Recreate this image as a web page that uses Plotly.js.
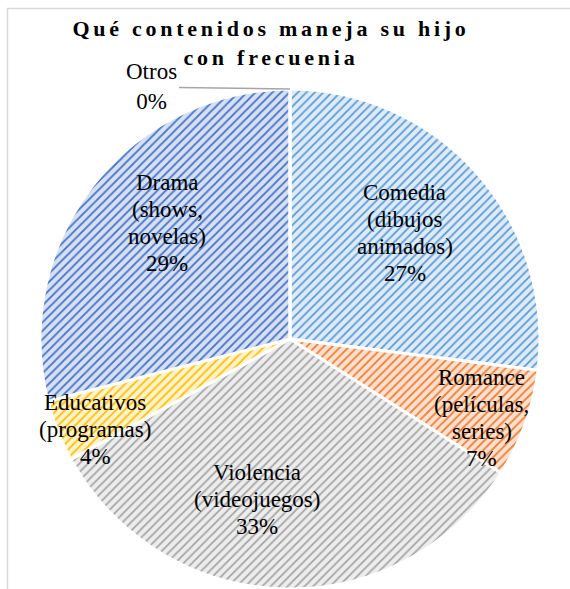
<!DOCTYPE html>
<html>
<head>
<meta charset="utf-8">
<script src="https://cdn.plot.ly/plotly-3.0.1.min.js"></script>
<style>
  html, body { margin: 0; padding: 0; background: #fff; }
  #chart { width: 570px; height: 589px; }
</style>
</head>
<body>
<div id="chart"></div>
<script>
// ---- data ----
const categories = ["Comedia", "Romance", "Violencia", "Educativos", "Drama", "Otros"];
const labelLines = [
  ["Comedia", "(dibujos", "animados)"],
  ["Romance", "(películas,", "series)"],
  ["Violencia", "(videojuegos)"],
  ["Educativos", "(programas)"],
  ["Drama", "(shows,", "novelas)"],
  ["Otros"]
];
const values = [27, 7, 33, 4, 29, 0];
const chartTitle = "Qué contenidos maneja su hijo<br>con frecuenia";

// ---- style ----
const fgColors = ["#5b9bd5", "#ed7d31", "#a5a5a5", "#ffc000", "#4472c4", "#70ad47"];
const bgColors = ["#deebf7", "#fbe0cf", "#ededed", "#fff2cc", "#d6e0f3", "#e2efda"];
const labelRadius = [0.625, 0.83, 0.656, 0.86, 0.676];
const labelAngleShift = [-1.3, 2.6, 9.8, -3.4, 5.5];

const W = 570, H = 589;
const dom = { x: [40 / W, 540 / W], y: [0, 500 / H] };
const cx = (dom.x[0] + dom.x[1]) / 2 * W;
const cy = H - (dom.y[0] + dom.y[1]) / 2 * H;
const R = Math.min((dom.x[1] - dom.x[0]) * W, (dom.y[1] - dom.y[0]) * H) / 2;
const FONT = "Liberation Serif, Times New Roman, serif";
const lineGap = 27;

const total = values.reduce((a, b) => a + b, 0);
const annotations = [];
let cum = 0;
values.forEach((v, i) => {
  const pct = Math.round(v / total * 100) + "%";
  const mid = (cum + v / 2) / total * 360;
  if (v > 0) {
    const th = (mid + labelAngleShift[i]) * Math.PI / 180;
    const r = labelRadius[i] * R;
    const px = cx + r * Math.sin(th);
    const py = cy - r * Math.cos(th);
    const lines = labelLines[i].concat([pct]);
    const n = lines.length;
    lines.forEach((t, k) => {
      annotations.push({
        xref: "paper", yref: "paper",
        x: px / W, y: (H - py) / H,
        xanchor: "center", yanchor: "middle",
        yshift: -(k - (n - 1) / 2) * lineGap,
        text: t, showarrow: false,
        font: { family: FONT, size: 23, color: "#000" }
      });
    });
  } else {
    // zero-value slice: label outside with leader line to its (top) position
    const th = (cum / total * 360) * Math.PI / 180;
    const px = cx + R * Math.sin(th);
    const py = cy - R * Math.cos(th);
    annotations.push({
      xref: "paper", yref: "paper",
      x: px / W, y: (H - py) / H,
      text: labelLines[i].join("<br>") + "<br>" + pct,
      showarrow: true, arrowhead: 0, arrowwidth: 1.5, arrowcolor: "#a6a6a6",
      ax: -138, ay: -2, standoff: 0,
      font: { family: FONT, size: 23, color: "#000" }
    });
  }
  cum += v;
});

const trace = {
  type: "pie",
  labels: categories,
  values: values,
  sort: false,
  direction: "clockwise",
  rotation: 0,
  textinfo: "none",
  hoverinfo: "label+percent",
  domain: dom,
  marker: {
    colors: bgColors,
    line: { color: "#ffffff", width: 3 },
    pattern: {
      shape: "/",
      size: 6,
      solidity: 0.3,
      fgcolor: fgColors,
      bgcolor: bgColors,
      fillmode: "replace"
    }
  },
  showlegend: false
};

const layout = {
  width: W, height: H,
  margin: { l: 0, r: 0, t: 0, b: 0 },
  paper_bgcolor: "#ffffff",
  font: { family: FONT },
  showlegend: false,
  title: {
    text: chartTitle,
    x: 271 / W, xanchor: "center",
    y: 1 - 36 / H, yanchor: "top",
    font: { family: FONT, size: 22, color: "#000", weight: "bold" }
  },
  annotations: annotations,
  shapes: [{
    type: "rect", xref: "paper", yref: "paper",
    x0: 7.5 / W, x1: 600 / W, y0: -0.1, y1: 1 - 8.5 / H,
    line: { color: "#d9d9d9", width: 1.5 }, fillcolor: "rgba(0,0,0,0)"
  }]
};

Plotly.newPlot("chart", [trace], layout, { displayModeBar: false, staticPlot: true }).then(() => {
  document.querySelectorAll(".gtitle").forEach(el => {
    el.style.letterSpacing = "3.75px";
    el.style.fontWeight = "bold";
  });
});
</script>
</body>
</html>
